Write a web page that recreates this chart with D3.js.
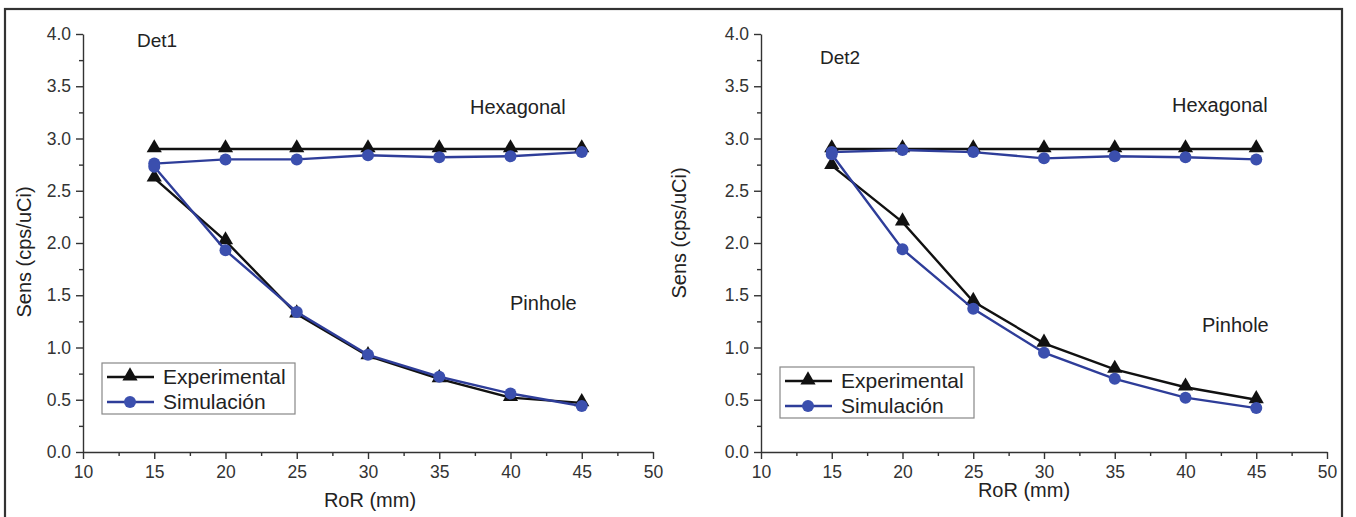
<!DOCTYPE html>
<html>
<head>
<meta charset="utf-8">
<script src="https://cdn.jsdelivr.net/npm/d3@7"></script>
<style>
  body { margin: 0; background: #fff; }
  text { font-family: "Liberation Sans", Arial, sans-serif; fill: #222; }
  .axis path, .axis line { stroke: #333; stroke-width: 1.4; }
  .axis text { font-size: 17.5px; fill: #333; font-family: "Liberation Sans", Arial, sans-serif; }
</style>
</head>
<body>
<div id="chart"></div>
<script>
var ror = [15, 20, 25, 30, 35, 40, 45];
var xTicks = [10, 15, 20, 25, 30, 35, 40, 45, 50];
var yTicks = [0, 0.5, 1.0, 1.5, 2.0, 2.5, 3.0, 3.5, 4.0];

// Det1
var det1HexExp = [2.90, 2.90, 2.90, 2.90, 2.90, 2.90, 2.90];
var det1HexSim = [2.76, 2.80, 2.80, 2.84, 2.82, 2.83, 2.87];
var det1PinExp = [2.62, 2.02, 1.32, 0.92, 0.70, 0.52, 0.47];
var det1PinSim = [2.73, 1.93, 1.34, 0.93, 0.72, 0.56, 0.44];

// Det2
var det2HexExp = [2.90, 2.90, 2.90, 2.90, 2.90, 2.90, 2.90];
var det2HexSim = [2.87, 2.89, 2.87, 2.81, 2.83, 2.82, 2.80];
var det2PinExp = [2.74, 2.20, 1.44, 1.04, 0.79, 0.62, 0.50];
var det2PinSim = [2.85, 1.94, 1.37, 0.95, 0.70, 0.52, 0.42];

var black = "#111", blue = "#3b4fae", blueLine = "#2e3d99";

var svg = d3.select("#chart").append("svg").attr("width", 1356).attr("height", 517);

// outer frame
svg.append("rect").attr("x", 5).attr("y", 9).attr("width", 1337).attr("height", 520)
  .attr("fill", "none").attr("stroke", "#333").attr("stroke-width", 2.2);

var panels = [
  {left: 83, right: 653, title: "Det1", tx: 137, ty: 47, hex: [470, 114], pin: [510, 310],
   yLabel: [24, 252], xLabel: [370, 507], leg: {x: 102, y: 363, w: 193, h: 51},
   exp: det1HexExp, sim: det1HexSim, pexp: det1PinExp, psim: det1PinSim},
  {left: 761, right: 1327, title: "Det2", tx: 820, ty: 64, hex: [1172, 112], pin: [1202, 332],
   yLabel: [679, 233], xLabel: [1024, 497], leg: {x: 780, y: 367, w: 194, h: 51},
   exp: det2HexExp, sim: det2HexSim, pexp: det2PinExp, psim: det2PinSim}
];

var yTop = 34, yBottom = 452;

panels.forEach(function(p) {
  var x = d3.scaleLinear().domain([10, 50]).range([p.left, p.right]);
  var y = d3.scaleLinear().domain([0, 4]).range([yBottom, yTop]);
  var g = svg.append("g");

  // minor ticks
  g.append("g").attr("class", "axis")
    .attr("transform", "translate(0," + yBottom + ")")
    .call(d3.axisBottom(x).tickValues(d3.range(12.5, 50, 5)).tickSize(4).tickFormat(""))
    .select(".domain").remove();
  g.append("g").attr("class", "axis")
    .attr("transform", "translate(" + p.left + ",0)")
    .call(d3.axisLeft(y).tickValues(d3.range(0.25, 4, 0.5)).tickSize(4).tickFormat(""))
    .select(".domain").remove();

  g.append("g").attr("class", "axis")
    .attr("transform", "translate(0," + yBottom + ")")
    .call(d3.axisBottom(x).tickValues(xTicks).tickSize(7).tickSizeOuter(0).tickPadding(7));
  g.append("g").attr("class", "axis")
    .attr("transform", "translate(" + p.left + ",0)")
    .call(d3.axisLeft(y).tickValues(yTicks).tickSize(7).tickSizeOuter(0).tickPadding(5)
      .tickFormat(d3.format(".1f")));

  g.append("text").attr("x", p.xLabel[0]).attr("y", p.xLabel[1])
    .attr("text-anchor", "middle").attr("font-size", 20).text("RoR (mm)");
  g.append("text").attr("transform", "translate(" + p.yLabel[0] + "," + p.yLabel[1] + ") rotate(-90)")
    .attr("text-anchor", "middle").attr("dy", "0.35em").attr("font-size", 20).text("Sens (cps/uCi)");

  g.append("text").attr("x", p.tx).attr("y", p.ty).attr("font-size", 19).text(p.title);
  g.append("text").attr("x", p.hex[0]).attr("y", p.hex[1]).attr("font-size", 20).text("Hexagonal");
  g.append("text").attr("x", p.pin[0]).attr("y", p.pin[1]).attr("font-size", 20).text("Pinhole");

  var line = d3.line().x(function(d) { return x(d[0]); }).y(function(d) { return y(d[1]); });
  var tri = d3.symbol().type(d3.symbolTriangle).size(100);

  function series(vals, kind) {
    var pts = ror.map(function(r, i) { return [r, vals[i]]; });
    g.append("path").datum(pts).attr("d", line).attr("fill", "none")
      .attr("stroke", kind == "exp" ? black : blueLine).attr("stroke-width", 2.4);
    if (kind == "exp") {
      g.selectAll(null).data(pts).enter().append("path")
        .attr("d", tri)
        .attr("transform", function(d) { return "translate(" + x(d[0]) + "," + (y(d[1]) - 1) + ")"; })
        .attr("fill", black);
    } else {
      g.selectAll(null).data(pts).enter().append("circle")
        .attr("cx", function(d) { return x(d[0]); })
        .attr("cy", function(d) { return y(d[1]); })
        .attr("r", 6).attr("fill", blue);
    }
  }
  series(p.exp, "exp");
  series(p.pexp, "exp");
  series(p.sim, "sim");
  series(p.psim, "sim");

  // legend
  var L = p.leg;
  var lg = g.append("g").attr("transform", "translate(" + L.x + "," + L.y + ")");
  lg.append("rect").attr("width", L.w).attr("height", L.h)
    .attr("fill", "#fff").attr("stroke", "#888").attr("stroke-width", 1.2);
  var rows = [{name: "Experimental", c: black, kind: "exp"}, {name: "Simulación", c: blueLine, kind: "sim"}];
  rows.forEach(function(r, i) {
    var yy = 14 + i * 25;
    lg.append("line").attr("x1", 5).attr("x2", 52).attr("y1", yy).attr("y2", yy)
      .attr("stroke", r.c).attr("stroke-width", 2.4);
    if (r.kind == "exp") {
      lg.append("path").attr("d", tri).attr("transform", "translate(28," + (yy - 1) + ")").attr("fill", black);
    } else {
      lg.append("circle").attr("cx", 28).attr("cy", yy).attr("r", 6).attr("fill", blue);
    }
    lg.append("text").attr("x", 61).attr("y", yy).attr("dy", "0.35em")
      .attr("font-size", 21).text(r.name);
  });
});
</script>
</body>
</html>
